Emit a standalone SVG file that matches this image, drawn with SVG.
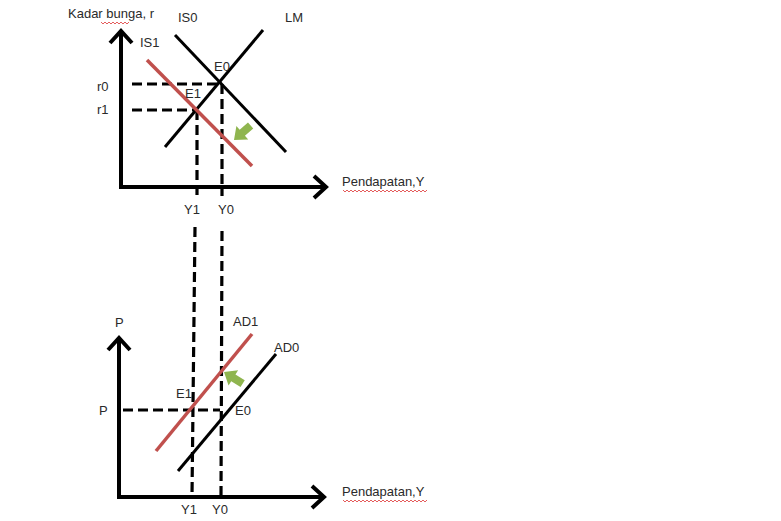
<svg xmlns="http://www.w3.org/2000/svg" width="781" height="521" viewBox="0 0 781 521">
<defs>
<style>
.t{font-family:"Liberation Sans",Arial,sans-serif;font-size:13px;fill:#2a2a2a}
.ax{fill:none;stroke:#000;stroke-width:4;stroke-linecap:butt;stroke-linejoin:miter}
.dash{fill:none;stroke:#000;stroke-width:3.2;stroke-dasharray:10,5}
.blk{stroke:#000;stroke-width:3;fill:none}
.red{stroke:#c0504d;stroke-width:3.5;fill:none}
.wavy{fill:none;stroke:#d33;stroke-width:0.8}
.garrow{fill:#8fb54f}
</style>
<polygon id="garr" points="0,0 -11,-9 -11,-4 -22,-4 -22,4 -11,4 -11,9"/>
</defs>
<rect width="781" height="521" fill="#fff"/>
<g id="connectors">
<polyline class="ax" points="121,32 121,187 325,187"/>
<polyline class="ax" points="110,43 121,31 132,43"/>
<polyline class="ax" points="314,176 326,187 314,198"/>
<line class="dash" x1="132" y1="84" x2="222" y2="84"/>
<line class="dash" x1="132" y1="110" x2="197" y2="110"/>
<line class="dash" x1="197" y1="110" x2="197" y2="196"/>
<line class="dash" x1="222" y1="84" x2="222" y2="196"/>
<line class="dash" x1="195" y1="227" x2="192" y2="496"/>
<line class="dash" x1="222" y1="231" x2="221" y2="496"/>
<polyline class="ax" points="119,339 119,497 323,497"/>
<polyline class="ax" points="108,350 119,338 130,350"/>
<polyline class="ax" points="312,486 324,497 312,508"/>
<line class="dash" x1="123" y1="410" x2="220" y2="410"/>
</g>
<g id="IS0"><line class="blk" x1="175" y1="35" x2="286" y2="152"/></g>
<g id="LM"><line class="blk" x1="165" y1="147" x2="263" y2="30"/></g>
<g id="IS1"><line class="red" x1="147" y1="60" x2="252" y2="166"/></g>
<g id="AD1"><line class="red" x1="156" y1="451" x2="252" y2="334"/></g>
<g id="AD0"><line class="blk" stroke-width="2.5" x1="178" y1="471" x2="276" y2="354"/></g>
<g id="arrows">
<use href="#garr" class="garrow" transform="translate(234,140) rotate(139)"/>
<use href="#garr" class="garrow" transform="translate(224,372) rotate(212)"/>
</g>
<g id="labels">
<text class="t" x="68" y="18">Kadar bunga, r</text>
<polyline class="wavy" points="101,22 103,24 105,22 107,24 109,22 111,24 113,22 115,24 117,22 119,24 121,22 123,24 125,22 127,24 129,22"/>
<text class="t" x="178" y="22">IS0</text>
<text class="t" x="285" y="22">LM</text>
<text class="t" x="140" y="47">IS1</text>
<text class="t" x="214" y="71">E0</text>
<text class="t" x="185" y="98">E1</text>
<text class="t" x="97" y="91">r0</text>
<text class="t" x="97" y="114">r1</text>
<text class="t" x="342" y="186">Pendapatan,Y</text>
<polyline class="wavy" points="343,190 345,192 347,190 349,192 351,190 353,192 355,190 357,192 359,190 361,192 363,190 365,192 367,190 369,192 371,190 373,192 375,190 377,192 379,190 381,192 383,190 385,192 387,190 389,192 391,190 393,192 395,190 397,192 399,190 401,192 403,190 405,192 407,190 409,192 411,190 413,192 415,190 417,192 419,190 421,192 423,190 425,192 427,190"/>
<text class="t" x="184" y="214">Y1</text>
<text class="t" x="218" y="214">Y0</text>
<text class="t" x="115" y="327">P</text>
<text class="t" x="233" y="326">AD1</text>
<text class="t" x="274" y="352">AD0</text>
<text class="t" x="176" y="398">E1</text>
<text class="t" x="99" y="415">P</text>
<text class="t" x="235" y="415">E0</text>
<text class="t" x="181" y="514">Y1</text>
<text class="t" x="212" y="514">Y0</text>
<text class="t" x="342" y="496">Pendapatan,Y</text>
<polyline class="wavy" points="343,500 345,502 347,500 349,502 351,500 353,502 355,500 357,502 359,500 361,502 363,500 365,502 367,500 369,502 371,500 373,502 375,500 377,502 379,500 381,502 383,500 385,502 387,500 389,502 391,500 393,502 395,500 397,502 399,500 401,502 403,500 405,502 407,500 409,502 411,500 413,502 415,500 417,502 419,500 421,502 423,500 425,502 427,500"/>
</g>
</svg>
